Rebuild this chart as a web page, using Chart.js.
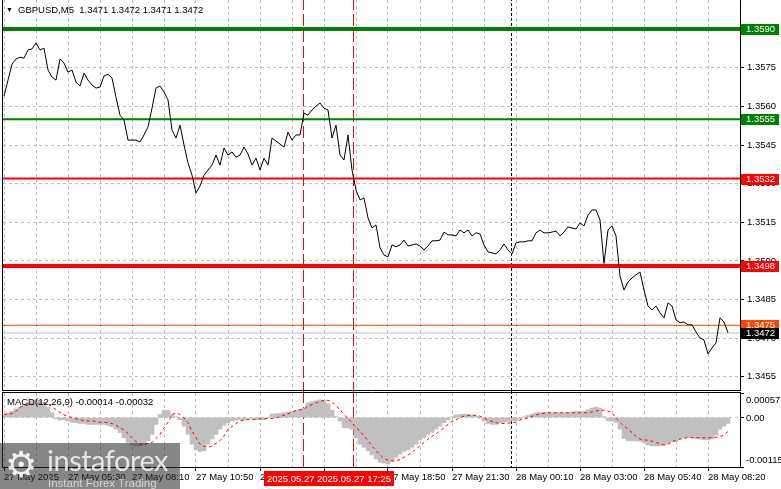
<!DOCTYPE html>
<html>
<head>
<meta charset="utf-8">
<script src="https://cdn.jsdelivr.net/npm/chart.js@4.4.1/dist/chart.umd.min.js"></script>
<style>
html, body { margin: 0; padding: 0; background: #fff; }
#wrap { position: relative; width: 781px; height: 489px; overflow: hidden; font-family: "Liberation Sans", Arial, sans-serif; }
#priceBox { position: absolute; left: 0; top: 0; width: 781px; height: 392px; }
#macdBox { position: absolute; left: 0; top: 391px; width: 781px; height: 98px; }
.lbl { position: absolute; font-size: 9.5px; color: #000; white-space: pre; line-height: 12px; }
#logo { position: absolute; left: 0; top: 443px; width: 180px; height: 46px; background: rgba(40,40,40,0.56); }
#gear { position: absolute; left: 5px; top: 0; font: 36px/44px "DejaVu Sans", sans-serif; color: rgba(255,255,255,0.88); }
#brand { position: absolute; left: 47px; top: 2px; font: 29px/30px Lato, sans-serif; color: rgba(240,240,240,0.9); letter-spacing: -0.5px; }
#slogan { position: absolute; left: 48px; top: 34px; font: 11.5px/13px "Liberation Sans", Arial, sans-serif; color: rgba(225,225,225,0.85); }
</style>
</head>
<body>
<div id="wrap">
  <div id="priceBox"><canvas id="chartPrice"></canvas></div>
  <div id="macdBox"><canvas id="chartMacd"></canvas></div>
  <div class="lbl" style="left:6px;top:4px;font-size:7px;">▼</div>
  <div class="lbl" style="left:18px;top:4px;">GBPUSD,M5  1.3471 1.3472 1.3471 1.3472</div>
  <div class="lbl" style="left:7px;top:396px;">MACD(12,26,9) -0.00014 -0.00032</div>
  <div id="logo"><span id="gear">⚙</span><span id="brand">instaforex</span><span id="slogan">Instant Forex Trading</span></div>
</div>
<script>
// GBPUSD M5, one value every second bar (bar 0 = 27 May 02:50)
const barStep = 2;
const prices = [
    1.35640, 1.35702, 1.35764, 1.35784, 1.35791, 1.35787, 1.35819, 1.35823, 1.35846, 1.35819,
    1.35826, 1.35741, 1.35714, 1.35702, 1.35784, 1.35768, 1.35733, 1.35741, 1.35694, 1.35679,
    1.35729, 1.35702, 1.35683, 1.35671, 1.35675, 1.35718, 1.35725, 1.35710, 1.35636, 1.35566,
    1.35547, 1.35469, 1.35469, 1.35469, 1.35462, 1.35489, 1.35520, 1.35593, 1.35671, 1.35679,
    1.35656, 1.35625, 1.35508, 1.35477, 1.35527, 1.35450, 1.35380, 1.35333, 1.35264, 1.35291,
    1.35333, 1.35353, 1.35372, 1.35411, 1.35372, 1.35438, 1.35411, 1.35423, 1.35403, 1.35411,
    1.35442, 1.35415, 1.35372, 1.35399, 1.35353, 1.35399, 1.35372, 1.35477, 1.35465, 1.35454,
    1.35442, 1.35500, 1.35469, 1.35489, 1.35489, 1.35574, 1.35566, 1.35586, 1.35601, 1.35613,
    1.35593, 1.35586, 1.35477, 1.35527, 1.35411, 1.35392, 1.35489, 1.35353, 1.35275, 1.35237,
    1.35244, 1.35167, 1.35128, 1.35140, 1.35051, 1.35023, 1.35016, 1.35062, 1.35055, 1.35062,
    1.35081, 1.35058, 1.35062, 1.35066, 1.35058, 1.35043, 1.35058, 1.35078, 1.35078, 1.35081,
    1.35112, 1.35101, 1.35101, 1.35097, 1.35120, 1.35109, 1.35120, 1.35097, 1.35109, 1.35105,
    1.35062, 1.35035, 1.35031, 1.35027, 1.35043, 1.35066, 1.35043, 1.35027, 1.35070, 1.35074,
    1.35074, 1.35078, 1.35078, 1.35109, 1.35120, 1.35109, 1.35109, 1.35112, 1.35116, 1.35097,
    1.35112, 1.35132, 1.35128, 1.35124, 1.35147, 1.35136, 1.35178, 1.35198, 1.35198, 1.35159,
    1.34990, 1.35120, 1.35136, 1.35097, 1.34942, 1.34887, 1.34918, 1.34934, 1.34946, 1.34957,
    1.34887, 1.34825, 1.34810, 1.34825, 1.34798, 1.34779, 1.34837, 1.34825, 1.34771, 1.34760,
    1.34763, 1.34752, 1.34752, 1.34724, 1.34701, 1.34693, 1.34639, 1.34662, 1.34682, 1.34779,
    1.34763, 1.34721
];
const macdHist = [
    0.00005, 0.00011, 0.00014, 0.00020, 0.00024, 0.00030, 0.00035, 0.00039, 0.00041, 0.00040,
    0.00034, 0.00024, 0.00011, -0.00003, -0.00006, -0.00005, -0.00008, -0.00011, -0.00012, -0.00014,
    -0.00014, -0.00016, -0.00016, -0.00016, -0.00016, -0.00016, -0.00018, -0.00021, -0.00027, -0.00035,
    -0.00047, -0.00058, -0.00064, -0.00066, -0.00066, -0.00064, -0.00054, -0.00039, -0.00016, 0.00007,
    0.00017, 0.00017, 0.00007, 0.00002, -0.00005, -0.00020, -0.00039, -0.00062, -0.00075, -0.00079,
    -0.00077, -0.00062, -0.00050, -0.00039, -0.00027, -0.00018, -0.00012, -0.00008, -0.00006, -0.00005,
    -0.00006, -0.00003, -0.00003, -0.00005, -0.00004, -0.00005, -0.00001, 0.00008, 0.00009, 0.00009,
    0.00011, 0.00012, 0.00014, 0.00017, 0.00018, 0.00022, 0.00034, 0.00037, 0.00039, 0.00041,
    0.00040, 0.00032, 0.00017, 0.00002, -0.00008, -0.00024, -0.00024, -0.00027, -0.00047, -0.00062,
    -0.00069, -0.00077, -0.00087, -0.00096, -0.00104, -0.00106, -0.00108, -0.00102, -0.00092, -0.00085,
    -0.00079, -0.00075, -0.00069, -0.00062, -0.00052, -0.00047, -0.00039, -0.00034, -0.00027, -0.00020,
    -0.00012, -0.00005, 0.00002, 0.00006, 0.00007, 0.00008, 0.00007, 0.00006, 0.00003, -0.00002,
    -0.00008, -0.00014, -0.00016, -0.00016, -0.00012, -0.00011, -0.00009, -0.00008, -0.00008, -0.00003,
    0.00002, 0.00005, 0.00008, 0.00011, 0.00012, 0.00012, 0.00011, 0.00011, 0.00012, 0.00011,
    0.00011, 0.00012, 0.00013, 0.00014, 0.00014, 0.00014, 0.00018, 0.00022, 0.00024, 0.00022,
    0.00002, -0.00008, -0.00008, -0.00011, -0.00027, -0.00049, -0.00054, -0.00054, -0.00054, -0.00055,
    -0.00058, -0.00064, -0.00066, -0.00066, -0.00066, -0.00064, -0.00060, -0.00056, -0.00056, -0.00050,
    -0.00047, -0.00047, -0.00047, -0.00049, -0.00050, -0.00052, -0.00052, -0.00050, -0.00041, -0.00027,
    -0.00020, -0.00014
];
const macdSignal = [
    0.00007, 0.00008, 0.00009, 0.00014, 0.00024, 0.00027, 0.00029, 0.00030, 0.00031, 0.00032,
    0.00034, 0.00032, 0.00026, 0.00018, 0.00012, 0.00006, 0.00003, 0.00000, -0.00003, -0.00005,
    -0.00007, -0.00008, -0.00008, -0.00009, -0.00011, -0.00011, -0.00012, -0.00014, -0.00018, -0.00024,
    -0.00029, -0.00037, -0.00047, -0.00056, -0.00062, -0.00062, -0.00060, -0.00058, -0.00049, -0.00039,
    -0.00024, -0.00011, 0.00007, 0.00011, 0.00007, -0.00001, -0.00012, -0.00031, -0.00047, -0.00062,
    -0.00067, -0.00069, -0.00066, -0.00060, -0.00054, -0.00043, -0.00027, -0.00021, -0.00014, -0.00008,
    -0.00006, -0.00005, -0.00005, -0.00004, -0.00003, -0.00003, -0.00002, -0.00002, -0.00001, 0.00002,
    0.00005, 0.00009, 0.00013, 0.00016, 0.00018, 0.00020, 0.00026, 0.00030, 0.00034, 0.00037,
    0.00040, 0.00040, 0.00037, 0.00027, 0.00018, 0.00007, -0.00002, -0.00012, -0.00024, -0.00031,
    -0.00043, -0.00054, -0.00066, -0.00077, -0.00087, -0.00095, -0.00099, -0.00101, -0.00100, -0.00098,
    -0.00092, -0.00087, -0.00081, -0.00073, -0.00066, -0.00058, -0.00050, -0.00044, -0.00038, -0.00031,
    -0.00024, -0.00016, -0.00009, -0.00005, 0.00000, 0.00003, 0.00005, 0.00005, 0.00005, 0.00003,
    -0.00001, -0.00006, -0.00009, -0.00012, -0.00014, -0.00014, -0.00013, -0.00012, -0.00011, -0.00006,
    -0.00003, -0.00001, 0.00003, 0.00006, 0.00008, 0.00010, 0.00011, 0.00011, 0.00011, 0.00011,
    0.00011, 0.00011, 0.00011, 0.00011, 0.00011, 0.00011, 0.00011, 0.00013, 0.00015, 0.00017,
    0.00017, 0.00015, 0.00011, -0.00001, -0.00011, -0.00020, -0.00027, -0.00035, -0.00044, -0.00050,
    -0.00052, -0.00053, -0.00055, -0.00058, -0.00061, -0.00064, -0.00062, -0.00056, -0.00053, -0.00050,
    -0.00048, -0.00047, -0.00047, -0.00047, -0.00047, -0.00047, -0.00047, -0.00047, -0.00046, -0.00044,
    -0.00041, -0.00032
];

const levelPrices = [1.3590, 1.3555, 1.3532, 1.3498, 1.3475, 1.3472];
const priceTicks = [1.3455, 1.3470, 1.3485, 1.3500, 1.3515, 1.3530, 1.3545, 1.3560, 1.3575, 1.3590];
const macdTicks = [0.00057, 0, -0.00115];
const macdTickLabels = ['0.00057', '0.00', '-0.00115'];
const timeLabels = ['27 May 2025', '27 May 05:30', '27 May 08:10', '27 May 10:50', '27 May 13:30', '27 May 16:10',
    '27 May 18:50', '27 May 21:30', '28 May 00:10', '28 May 03:00', '28 May 05:40', '28 May 08:20'];
const labelEvery = 32;   // bars between time labels
const gridEvery = 16;    // bars between grid lines
const markerBars = [150, 175];
const markerLabels = ['2025.05.27 15:20', '2025.05.27 17:25'];
const daySplitBar = 254;

// styles
const levelColors = ['#008000', '#008000', '#ff0000', '#ff0000', '#ff4500', '#c0c0c0'];
const levelWidths = [4, 2, 2, 4, 1, 1];
const levelBoxColors = ['#008000', '#008000', '#ff0000', '#ff0000', '#ff4500', '#000000'];
const FONT = { family: '"Liberation Sans", Arial, sans-serif', size: 9.5 };
const FONT_CSS = '9.5px "Liberation Sans", Arial, sans-serif';
const X_MIN = -0.5, X_MAX = 368;

const gridBars = [];
for (let b = 0; b <= timeLabels.length * labelEvery - gridEvery; b += gridEvery) gridBars.push(b);

// no label overhang padding: the plot box must stay fixed
function noPad(s) {
    s.paddingTop = 0; s.paddingBottom = 0; s.paddingLeft = 0; s.paddingRight = 0;
}

function xAxis(withLabels) {
    return {
        type: 'linear', min: X_MIN, max: X_MAX, offset: false,
        afterBuildTicks: s => { s.ticks = gridBars.map(v => ({ value: v })); },
        afterFit: s => { s.height = withLabels ? 22 : 0; noPad(s); },
        grid: {
            offset: false,
            color: '#c0c0c0', drawTicks: withLabels, tickLength: 4,
            tickColor: c => (c.tick && c.tick.value % labelEvery === 0) ? '#000' : 'rgba(0,0,0,0)'
        },
        border: { display: false, dash: [3, 3] },
        ticks: {
            display: withLabels, autoSkip: false, maxRotation: 0, minRotation: 0,
            align: 'start', padding: 1, color: '#000', font: FONT,
            callback: v => v % labelEvery === 0 ? timeLabels[v / labelEvery] : ''
        }
    };
}

function drawVerticals(chart) {
    const { ctx, chartArea, scales } = chart;
    ctx.save();
    ctx.lineWidth = 1;
    ctx.strokeStyle = '#ff0000';
    ctx.setLineDash([12, 4]);
    markerBars.forEach(b => {
        const px = Math.round(scales.x.getPixelForValue(b)) - 0.5;
        ctx.beginPath(); ctx.moveTo(px, chartArea.top - 2); ctx.lineTo(px, chartArea.bottom + 4); ctx.stroke();
    });
    ctx.strokeStyle = '#000';
    ctx.setLineDash([3, 2]);
    const dx = Math.round(scales.x.getPixelForValue(daySplitBar)) - 0.5;
    ctx.beginPath(); ctx.moveTo(dx, chartArea.top - 2); ctx.lineTo(dx, chartArea.bottom); ctx.stroke();
    ctx.restore();
}

function drawFrame(chart, top, bottom) {
    const { ctx, chartArea } = chart;
    ctx.save();
    ctx.strokeStyle = '#000';
    ctx.lineWidth = 1;
    ctx.beginPath();
    ctx.moveTo(chartArea.left - 0.5, top); ctx.lineTo(chartArea.left - 0.5, bottom);
    ctx.moveTo(chartArea.right + 0.5, top); ctx.lineTo(chartArea.right + 0.5, bottom);
    ctx.stroke();
    ctx.restore();
}

const pricePlugin = {
    id: 'pricePanel',
    beforeDatasetsDraw: drawVerticals,
    afterDraw(chart) {
        const { ctx, chartArea, scales } = chart;
        drawFrame(chart, 0, chartArea.bottom);
        ctx.save();
        ctx.strokeStyle = '#000';
        ctx.beginPath();
        ctx.moveTo(chartArea.left - 1, chartArea.bottom - 0.5);
        ctx.lineTo(chartArea.right + 1, chartArea.bottom - 0.5);
        ctx.stroke();
        // level tags on the price axis
        ctx.font = FONT_CSS;
        ctx.textBaseline = 'middle';
        ctx.textAlign = 'left';
        levelPrices.forEach((p, i) => {
            const py = Math.round(scales.y.getPixelForValue(p));
            ctx.fillStyle = levelBoxColors[i];
            ctx.fillRect(chartArea.right + 1, py - 5, 38, 11);
            ctx.fillStyle = '#fff';
            ctx.fillText(p.toFixed(4), chartArea.right + 6, py + 0.5);
        });
        ctx.restore();
    }
};

const macdPlugin = {
    id: 'macdPanel',
    beforeDatasetsDraw: drawVerticals,
    afterDraw(chart) {
        const { ctx, chartArea, scales } = chart;
        drawFrame(chart, chartArea.top - 1, chartArea.bottom + 1);
        ctx.save();
        ctx.strokeStyle = '#000';
        ctx.beginPath();
        ctx.moveTo(chartArea.left - 1, chartArea.top - 0.5);
        ctx.lineTo(chartArea.right + 1, chartArea.top - 0.5);
        ctx.moveTo(chartArea.left - 1, chartArea.bottom + 0.5);
        ctx.lineTo(chartArea.right + 1, chartArea.bottom + 0.5);
        ctx.stroke();
        ctx.font = FONT_CSS;
        ctx.textBaseline = 'middle';
        ctx.textAlign = 'left';
        ctx.fillStyle = '#000';
        macdTicks.forEach((v, i) => {
            let py = scales.y.getPixelForValue(v);
            py = Math.min(Math.max(py, chartArea.top + 7), chartArea.bottom - 7);
            ctx.fillText(macdTickLabels[i], chartArea.right + 6, py + 0.5);
        });
        // red time tags of the vertical lines
        ctx.textAlign = 'center';
        markerBars.forEach((b, i) => {
            const px = Math.round(scales.x.getPixelForValue(b));
            const w = ctx.measureText(markerLabels[i]).width + 6;
            ctx.fillStyle = '#ff0000';
            ctx.fillRect(Math.round(px - w / 2), chartArea.bottom + 4, Math.round(w), 15);
            ctx.fillStyle = '#fff';
            ctx.fillText(markerLabels[i], px, chartArea.bottom + 12);
        });
        ctx.restore();
    }
};

const priceData = prices.map((p, i) => ({ x: i * barStep, y: p }));
const levelSets = levelPrices.map((p, i) => ({
    type: 'line',
    data: [{ x: X_MIN, y: p }, { x: X_MAX, y: p }],
    borderColor: levelColors[i],
    borderWidth: levelWidths[i],
    pointRadius: 0
}));

new Chart(document.getElementById('chartPrice'), {
    type: 'line',
    data: {
        datasets: [{
            data: priceData,
            borderColor: '#000',
            borderWidth: 1,
            pointRadius: 0,
            tension: 0
        }, ...levelSets]
    },
    options: {
        animation: false,
        responsive: true,
        maintainAspectRatio: false,
        layout: { padding: { left: 3, top: 0, right: 0, bottom: 1 } },
        plugins: { legend: { display: false }, tooltip: { enabled: false } },
        scales: {
            x: xAxis(false),
            y: {
                position: 'right', min: 1.34495, max: 1.36013,
                afterBuildTicks: s => { s.ticks = priceTicks.map(v => ({ value: v })); },
                afterFit: s => { s.width = 41; noPad(s); },
                grid: { color: '#c0c0c0', tickLength: 4, tickColor: '#000' },
                border: { display: false, dash: [3, 3] },
                ticks: { color: '#000', padding: 3, font: FONT, callback: v => v.toFixed(4) }
            }
        }
    },
    plugins: [pricePlugin]
});

new Chart(document.getElementById('chartMacd'), {
    type: 'bar',
    data: {
        datasets: [{
            type: 'line',
            data: macdSignal.map((v, i) => ({ x: i * barStep, y: v })),
            borderColor: '#ff0000',
            borderWidth: 1,
            borderDash: [3, 3],
            pointRadius: 0,
            tension: 0
        }, {
            type: 'bar',
            data: macdHist.map((v, i) => ({ x: i * barStep, y: v })),
            backgroundColor: '#c0c0c0',
            borderWidth: 0,
            barPercentage: 1,
            categoryPercentage: 1
        }]
    },
    options: {
        animation: false,
        responsive: true,
        maintainAspectRatio: false,
        layout: { padding: { left: 3, top: 2, right: 0, bottom: 0 } },
        plugins: { legend: { display: false }, tooltip: { enabled: false } },
        scales: {
            x: xAxis(true),
            y: {
                position: 'right', min: -0.00115, max: 0.00057,
                afterBuildTicks: s => { s.ticks = macdTicks.map(v => ({ value: v })); },
                afterFit: s => { s.width = 41; noPad(s); },
                grid: {
                    color: c => (c.tick && c.tick.value === 0) ? '#c0c0c0' : 'rgba(0,0,0,0)',
                    tickLength: 4, tickColor: '#000'
                },
                border: { display: false, dash: [3, 3] },
                ticks: { display: false }
            }
        }
    },
    plugins: [macdPlugin]
});
</script>
</body>
</html>
